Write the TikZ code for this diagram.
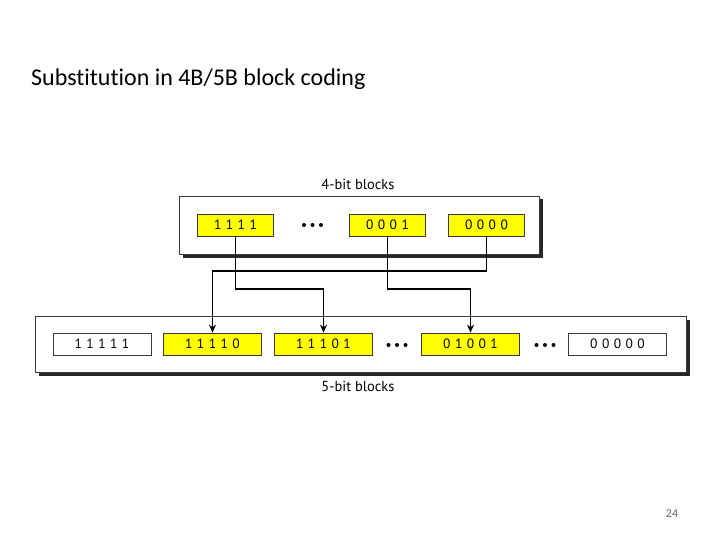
\documentclass[tikz,border=0pt]{standalone}
\usepackage{fontspec}
\setmainfont{Carlito}[Ligatures={NoCommon}]
\newfontfamily\diagfont{PT Sans}
\newfontfamily\bitfont[LetterSpace=33]{PT Sans}
\usetikzlibrary{arrows.meta,shadows}
\definecolor{boxyellow}{HTML}{FFFF00}
\definecolor{boxline}{HTML}{3A3A3A}
\newcommand{\threedots}{\tikz[baseline=-2pt]{\fill (0,0) circle (2pt) (8.5pt,0) circle (2pt) (17pt,0) circle (2pt);}}
\begin{document}
\begin{tikzpicture}[x=1pt,y=-1pt,
  outerbox/.style={draw=boxline, line width=0.9pt, fill=white, inner sep=0pt,
    drop shadow={shadow xshift=3.5pt, shadow yshift=-3.5pt, fill=black!85, opacity=1}},
  bitbox/.style={draw=boxline, line width=0.7pt, inner sep=0pt, minimum height=22pt,
    font=\bitfont\fontsize{13.5}{15}\selectfont},
  yel/.style={bitbox, fill=boxyellow},
  wht/.style={bitbox, fill=white},
  w4/.style={minimum width=76pt},
  w5/.style={minimum width=98pt},
  dots/.style={inner sep=0pt},
  lbl/.style={font=\diagfont\fontsize{14.5}{16}\selectfont},
  arr/.style={line width=1.5pt, -{Stealth[length=8pt,width=7pt]}},
]
\useasboundingbox (0,0) rectangle (720,540);
\node[anchor=base west, inner sep=0pt, font=\fontsize{24}{28}\selectfont] (title) at (31,86) {Substitution in 4B/5B block coding};
\node[font=\fontsize{12}{14}\selectfont, text=black!60] (page) at (672,514) {24};

% top group
\node[outerbox, minimum width=360pt, minimum height=58pt] (top) at (359,225) {};
\node[lbl] (toplbl) at (358,184) {4-bit blocks};
\node[yel, w4] (t1111) at (235.5,225) {1111};
\node[dots] (tdots) at (312.5,225) {\threedots};
\node[yel, w4] (t0001) at (387.5,225) {0001};
\node[yel, w4] (t0000) at (486.5,225) {0000};

% bottom group
\node[outerbox, minimum width=651pt, minimum height=56pt] (bot) at (360.5,344) {};
\node[lbl] (botlbl) at (358,386) {5-bit blocks};
\node[wht, w5] (b11111) at (102,344) {11111};
\node[yel, w5] (b11110) at (212.5,344) {11110};
\node[yel, w5] (b11101) at (323.5,344) {11101};
\node[dots] (bdots1) at (397,345) {\threedots};
\node[yel, w5] (b01001) at (470.5,344) {01001};
\node[dots] (bdots2) at (545,345) {\threedots};
\node[wht, w5] (b00000) at (617.5,344) {00000};

% connectors
\draw[arr] (t0000.south) -- ++(0,34.5) -| (b11110.north);
\draw[arr] (t1111.south) -- ++(0,52.5) -| (b11101.north);
\draw[arr] (t0001.south) -- ++(0,52.5) -| (b01001.north);
\end{tikzpicture}
\end{document}
